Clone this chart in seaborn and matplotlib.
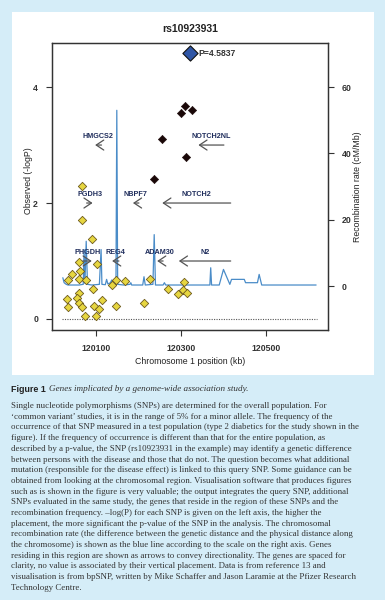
import numpy as np
import pandas as pd
import matplotlib
matplotlib.use("Agg")
import matplotlib.pyplot as plt
import seaborn as sns
from matplotlib.patches import Rectangle

sns.set_theme(style="ticks")
plt.rcParams["font.family"] = ["Liberation Sans", "DejaVu Sans"]

# ----------------------------------------------------------------------------
# DATA
# ----------------------------------------------------------------------------
snp_label = "rs10923931"
lead_pos, lead_logp = 120321, 4.5837

# SNPs in LD with the query SNP (black diamonds)
ld_pos = [120309, 120300, 120327, 120256, 120312, 120236]
ld_logp = [3.67, 3.56, 3.60, 3.11, 2.79, 2.41]

# other SNPs in the region (yellow diamonds)
snp_pos = [120066, 120066, 120090, 120060, 120102, 120043, 120062, 120033,
           120060, 120076, 120061, 120094, 120032, 120056, 120059, 120033,
           120068, 120096, 120108, 120113, 120074, 120101, 120147, 120137,
           120168, 120147, 120213, 120228, 120270, 120308, 120294, 120304,
           120315]
snp_logp = [2.29, 1.70, 1.38, 0.98, 0.94, 0.78, 0.83, 0.67,
            0.69, 0.67, 0.45, 0.51, 0.34, 0.37, 0.27, 0.21,
            0.21, 0.23, 0.18, 0.33, 0.05, 0.05, 0.68, 0.59,
            0.66, 0.22, 0.27, 0.69, 0.51, 0.64, 0.43, 0.50,
            0.44]

# recombination rate (cM/Mb)
rec_pos = [120022, 120025, 120030, 120034, 120060, 120070, 120072, 120074,
           120077, 120080, 120090, 120108, 120112, 120114, 120122, 120125,
           120128, 120134, 120137, 120140, 120147, 120149, 120151, 120165,
           120180, 120182, 120184, 120210, 120213, 120216, 120234, 120237,
           120240, 120258, 120261, 120264, 120368, 120370, 120372, 120390,
           120400, 120415, 120419, 120449, 120452, 120480, 120484, 120490,
           120618]
rec_rate = [2.5, 1.0, 0.5, 0.3, 0.3, 0.5, 11.0, 0.8,
            13.5, 0.5, 0.3, 0.5, 11.0, 0.5, 0.4, 2.0,
            0.6, 1.0, 1.8, 0.5, 0.5, 53.0, 0.5, 0.3,
            0.5, 1.0, 0.3, 0.3, 2.8, 0.3, 0.5, 15.5,
            0.3, 0.3, 1.0, 0.3, 0.3, 5.5, 0.3, 0.3,
            5.0, 0.5, 2.0, 2.0, 1.0, 1.0, 3.5, 0.3,
            0.3]

# genes: name, start, end (kb), strand (+1 right / -1 left), display row
gene_names = ["HMGCS2", "NOTCH2NL", "PGDH3", "NBPF7", "NOTCH2",
              "PHGDH", "REG4", "ADAM30", "N2"]
gene_start = [120098, 120341, 120078, 120187, 120256,
              120069, 120138, 120244, 120295]
gene_end = [120113, 120401, 120092, 120201, 120417,
            120090, 120154, 120258, 120417]
gene_strand = [-1, -1, 1, -1, -1, 1, -1, -1, -1]
gene_row = [3.0, 3.0, 2.0, 2.0, 2.0, 1.0, 1.0, 1.0, 1.0]

caption_lines = [
    "Single nucleotide polymorphisms (SNPs) are determined for the overall population. For",
    "\u2018common variant\u2019 studies, it is in the range of 5% for a minor allele. The frequency of the",
    "occurrence of that SNP measured in a test population (type 2 diabetics for the study shown in the",
    "figure). If the frequency of occurrence is different than that for the entire population, as",
    "described by a p-value, the SNP (rs10923931 in the example) may identify a genetic difference",
    "between persons with the disease and those that do not. The question becomes what additional",
    "mutation (responsible for the disease effect) is linked to this query SNP. Some guidance can be",
    "obtained from looking at the chromosomal region. Visualisation software that produces figures",
    "such as is shown in the figure is very valuable; the output integrates the query SNP, additional",
    "SNPs evaluated in the same study, the genes that reside in the region of these SNPs and the",
    "recombination frequency. \u2013log(P) for each SNP is given on the left axis, the higher the",
    "placement, the more significant the p-value of the SNP in the analysis. The chromosomal",
    "recombination rate (the difference between the genetic distance and the physical distance along",
    "the chromosome) is shown as the blue line according to the scale on the right axis. Genes",
    "residing in this region are shown as arrows to convey directionality. The genes are spaced for",
    "clarity, no value is associated by their vertical placement. Data is from reference 13 and",
    "visualisation is from bpSNP, written by Mike Schaffer and Jason Laramie at the Pfizer Research",
    "Technology Centre.",
]

# ----------------------------------------------------------------------------
# FIGURE
# ----------------------------------------------------------------------------
W, H = 385, 600
fig = plt.figure(figsize=(W / 100, H / 100), dpi=100)
fig.patch.set_facecolor("#d5edf8")
fig.patches.append(Rectangle((12 / W, 1 - 375 / H), 362 / W, 363 / H,
                             transform=fig.transFigure, facecolor="white",
                             edgecolor="none", zorder=-5))

ax = fig.add_axes([52 / W, 1 - 330 / H, 276 / W, 287 / H])
ax2 = ax.twinx()

# recombination rate (right axis)
rec = pd.DataFrame({"pos": rec_pos, "rate": rec_rate})
sns.lineplot(data=rec, x="pos", y="rate", ax=ax2, estimator=None, sort=False,
             color="#4a8cc8", lw=0.9)
ax2.set_ylim(-13.27, 73.3)
ax2.set_ylabel("Recombination rate (cM/Mb)", fontsize=6.3, color="#222",
               labelpad=1)
ax2.set_yticks([0, 20, 40, 60])

# SNP axis drawn above the recombination line
ax.set_zorder(ax2.get_zorder() + 1)
ax.set_facecolor("none")
ax2.set_facecolor("none")

ax.axhline(0, xmin=(120020 - 119996.5) / 649.5, xmax=(120620 - 119996.5) / 649.5,
           color="#555", lw=0.8, ls=(0, (1, 1.2)))

sns.scatterplot(x=snp_pos, y=snp_logp, ax=ax, marker="D", s=18,
                color="#e6d640", edgecolor="#6e5a1c", linewidth=0.6, zorder=3)
sns.scatterplot(x=ld_pos, y=ld_logp, ax=ax, marker="D", s=18,
                color="#1a0808", edgecolor="#1a0808", linewidth=0.4, zorder=3)
sns.scatterplot(x=[lead_pos], y=[lead_logp], ax=ax, marker="D", s=60,
                color="#2f56a6", edgecolor="#111", linewidth=0.8, zorder=4)
ax.annotate(f"P={lead_logp}", (lead_pos, lead_logp), xytext=(6, 0),
            textcoords="offset points", va="center", ha="left",
            fontsize=6.2, fontweight="bold", color="#333")

# genes as arrows
for name, s0, s1, strand, row in zip(gene_names, gene_start, gene_end,
                                     gene_strand, gene_row):
    tail, head = (s0, s1) if strand > 0 else (s1, s0)
    ax.annotate("", xy=(head, row), xytext=(tail, row),
                arrowprops=dict(arrowstyle="->,head_length=0.45,head_width=0.3",
                                color="#555", lw=0.9, shrinkA=0, shrinkB=0))
    ax.text((s0 + s1) / 2, row + 0.14, name, ha="center", va="center",
            fontsize=5.2, fontweight="bold", color="#1f2d5c")

ax.set_xlim(119996.5, 120646)
ax.set_ylim(-0.19, 4.76)
ax.set_xticks([120100, 120300, 120500])
ax.set_yticks([0, 2, 4])
ax.set_xlabel("Chromosome 1 position (kb)", fontsize=6.3, color="#222",
              labelpad=3)
ax.set_ylabel("Observed (-logP)", fontsize=6.3, color="#222")
ax.set_title(snp_label, fontsize=7.5, fontweight="bold", color="#222", pad=8)

for a in (ax, ax2):
    for sp in a.spines.values():
        sp.set_visible(True)
        sp.set_color("#333")
        sp.set_linewidth(0.9)
    a.tick_params(length=4, width=0.8, color="#333", labelsize=6.3,
                  labelcolor="#333", pad=6)
    for lab in a.get_xticklabels() + a.get_yticklabels():
        lab.set_fontweight("bold")
ax.tick_params(axis="x", pad=6)
ax.yaxis.set_label_coords(-0.07, 0.52)

# ----------------------------------------------------------------------------
# CAPTION
# ----------------------------------------------------------------------------
fig.canvas.draw()
r = fig.canvas.get_renderer()
t = fig.text(11 / W, 1 - 389 / H, "Figure 1", fontsize=6.4, fontweight="bold",
             color="#222", va="center", ha="left")
bb = t.get_window_extent(renderer=r)
fig.text((bb.x1 + 3) / W, 1 - 389 / H,
         "Genes implicated by a genome-wide association study.",
         family="Liberation Serif", style="italic", fontsize=6.6,
         color="#333", va="center", ha="left")

for i, line in enumerate(caption_lines):
    fig.text(11 / W, 1 - (406 + i * 10.7) / H, line, family="Liberation Serif",
             fontsize=6.4, color="#333", va="center", ha="left")

fig.savefig("out.png", dpi=100)
